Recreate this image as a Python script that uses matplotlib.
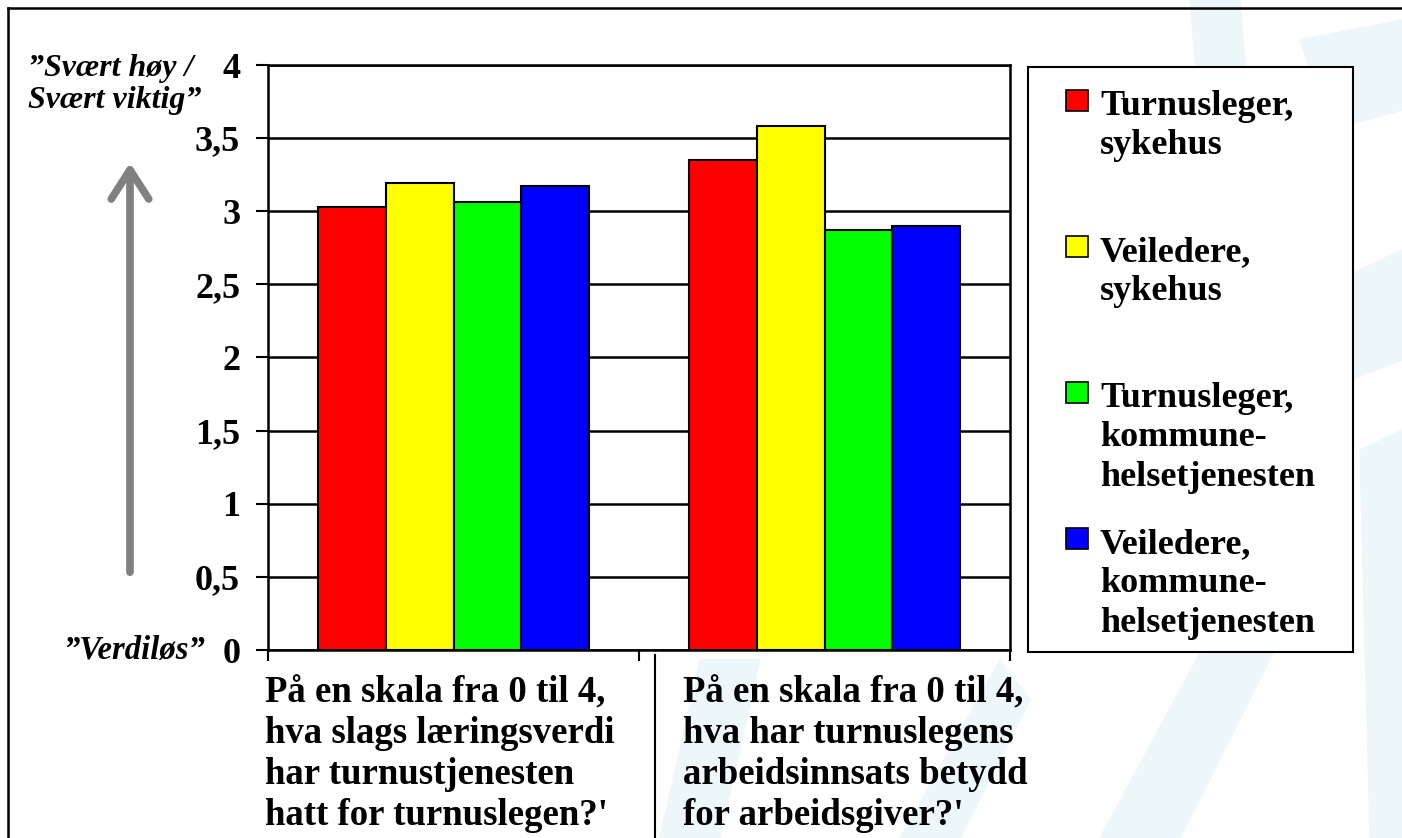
import numpy as np
import matplotlib.pyplot as plt
from matplotlib.patches import Rectangle, Polygon
from matplotlib.lines import Line2D
import matplotlib.transforms as mtransforms

plt.rcParams['font.family'] = ['Liberation Serif', 'DejaVu Serif']
plt.rcParams['font.weight'] = 'bold'

questions = ["På en skala fra 0 til 4,\nhva slags læringsverdi\nhar turnustjenesten\nhatt for turnuslegen?'",
             "På en skala fra 0 til 4,\nhva har turnuslegens\narbeidsinnsats betydd\nfor arbeidsgiver?'"]
groups = ["Turnusleger,\nsykehus", "Veiledere,\nsykehus",
          "Turnusleger,\nkommune-\nhelsetjenesten", "Veiledere,\nkommune-\nhelsetjenesten"]
colors = ['#ff0000', '#ffff00', '#00ff00', '#0000ff']
values = [[3.03, 3.35],
          [3.19, 3.58],
          [3.06, 2.87],
          [3.17, 2.90]]
yticks = [0, 0.5, 1, 1.5, 2, 2.5, 3, 3.5, 4]
ylabels = ['0', '0,5', '1', '1,5', '2', '2,5', '3', '3,5', '4']

W, H = 1402, 838


def fx(p):
    return p / W


def fy(p):
    return 1 - p / H


fig = plt.figure(figsize=(W / 100, H / 100), dpi=100)

# faint background watermark
wm = '#edf6f8'
shapes = [
    [(1190, 0), (1240, 0), (1260, 250), (1215, 300)],
    [(1300, 40), (1402, 20), (1402, 110), (1330, 130)],
    [(1230, 330), (1402, 250), (1402, 360), (1250, 420)],
    [(1360, 450), (1402, 430), (1402, 838), (1370, 838)],
    [(1100, 838), (1250, 560), (1300, 600), (1180, 838)],
    [(660, 838), (700, 660), (760, 660), (720, 838)],
    [(900, 838), (1000, 660), (1030, 700), (960, 838)],
]
for s in shapes:
    fig.patches.append(Polygon([(fx(a), fy(b)) for a, b in s], closed=True,
                               transform=fig.transFigure, color=wm, zorder=-1))

ax = fig.add_axes([fx(268), fy(650), fx(1010) - fx(268), fy(65) - fy(650)])
x = np.arange(len(questions))
w = 0.182
for i in range(len(groups)):
    ax.bar(x + (i - 1.5) * w, values[i], w, color=colors[i],
           edgecolor='black', linewidth=1.5, zorder=3)

ax.set_xlim(-0.5, 1.5)
ax.set_ylim(0, 4)
ax.set_yticks(yticks, ylabels, fontsize=26)
ax.set_xticks([-0.5, 0.5, 1.5], ['', '', ''])
ax.tick_params(axis='y', length=9, width=1.5, pad=11)
ax.tick_params(axis='x', length=8, width=1.5)
ax.yaxis.grid(True, color='black', linewidth=1.8)
ax.set_axisbelow(True)
for sp in ax.spines.values():
    sp.set_linewidth(1.8)

trans = mtransforms.blended_transform_factory(ax.transData, ax.transAxes)
for q, xq in zip(questions, [-0.508, 0.619]):
    ax.text(xq, -0.043, q, transform=trans, ha='left', va='top',
            fontsize=26.5, linespacing=1.22)

# legend drawn by hand
fig.patches.append(Rectangle((fx(1028), fy(652)), fx(1353) - fx(1028), fy(67) - fy(652),
                             transform=fig.transFigure, facecolor='white',
                             edgecolor='black', linewidth=1.5, zorder=1))
for i, (g, c) in enumerate(zip(groups, colors)):
    top = 90 + i * 146
    fig.patches.append(Rectangle((fx(1066), fy(top + 21)), 22 / W, 21 / H,
                                 transform=fig.transFigure, facecolor=c,
                                 edgecolor='black', linewidth=1.2, zorder=2))
    fig.text(fx(1100), fy(top), g, ha='left', va='top', fontsize=26,
             linespacing=1.25, zorder=2)

# y annotations
fig.text(fx(28), fy(54), '”Svært høy /\nSvært viktig”', ha='left', va='top',
         fontsize=23, style='italic', linespacing=1.15)
fig.text(fx(205), fy(650), '”Verdiløs”', ha='right', va='center',
         fontsize=23.5, style='italic')
ax.annotate('', xy=(fx(130), fy(160)), xytext=(fx(130), fy(575)),
            xycoords='figure fraction', textcoords='figure fraction',
            arrowprops=dict(arrowstyle='->,head_length=0.7,head_width=0.45',
                            mutation_scale=30, color='#808080', lw=5.5,
                            capstyle='round', joinstyle='round'),
            annotation_clip=False)

# frame and divider
fig.add_artist(Line2D([fx(8), fx(8)], [fy(8), 0], color='black', lw=1.8))
fig.add_artist(Line2D([fx(8), 1], [fy(8), fy(8)], color='black', lw=1.8))
fig.add_artist(Line2D([fx(655), fx(655)], [fy(655), 0], color='black', lw=1.5))

fig.savefig('out.png', dpi=100)
